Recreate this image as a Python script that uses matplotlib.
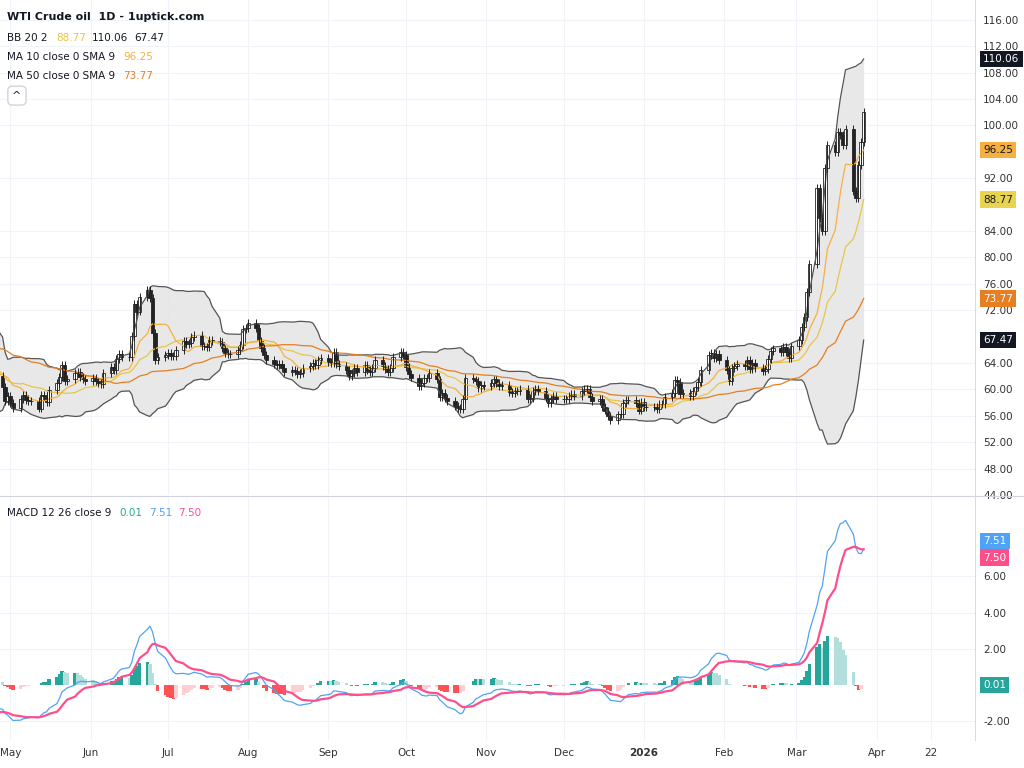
import numpy as np
import pandas as pd
import matplotlib
matplotlib.use("Agg")
import matplotlib.pyplot as plt

# ── 数据 ────────────────────────────────────────────────
early = [71, 71.5, 70.4, 70.3, 69.8, 68.4, 68.3, 67.0, 66.3, 66.0, 67.2, 66.6, 67.7, 67.6,
         66.9, 67.1, 67.8, 68.3, 68.0, 68.0, 69.1, 69.0, 68.7, 69.6, 69.4, 69.9, 69.6, 71.2,
         71.5, 71.7, 66.9, 61.9, 61.0, 60.7, 57.9, 62.4, 60.1, 61.5, 61.5, 60.5, 61.2, 64.3,
         62.3, 62.8, 63.0, 62.8, 63.0, 62.0, 60.4, 58.2, 59.0, 58.0, 57.2, 58.6, 59.1, 58.4]
may = [58.2, 58.3, 57.1, 59.1, 59.0, 58.1, 59.9, 61.0, 61.9, 63.7, 61.2, 61.6, 62.5, 62.7, 61.9,
       61.6, 61.2, 61.8, 61.2, 60.9, 60.8]
jun = [62.5, 63.4, 62.9, 64.6, 65.3, 64.9, 64.9, 68.1, 72.9, 71.8, 74.0, 75.1, 73.8, 68.5, 64.4,
       64.9, 65.2, 65.5, 65.1, 65.0, 66.0]
jul = [67.4, 66.9, 67.0, 67.9, 68.3, 66.6, 66.5, 66.4, 67.5, 67.3, 67.2, 66.2, 65.5, 65.3, 65.3,
       66.0, 66.7, 69.2, 69.3, 70.0, 69.3, 67.3]
aug = [66.3, 65.2, 64.4, 63.9, 63.7, 63.9, 63.2, 62.7, 63.0, 62.8, 62.4, 62.5, 63.2, 63.5, 64.0,
       63.7, 64.5, 64.8, 64.2, 64.0, 65.6]
sep = [63.9, 63.5, 63.0, 62.0, 62.5, 63.3, 62.6, 63.7, 63.0, 62.7, 63.2, 64.5, 63.5, 63.1, 62.7,
       63.3, 64.9, 65.7, 65.2, 63.4, 62.4, 61.8]
oct_ = [60.5, 60.9, 61.7, 61.7, 62.5, 61.5, 58.9, 59.5, 58.7, 58.3, 57.5, 57.2, 57.0, 58.5, 61.8,
        61.5, 61.3, 60.2, 60.6, 60.5, 61.0, 61.5, 60.9]
nov = [60.5, 60.6, 59.6, 59.4, 59.8, 59.8, 60.1, 58.5, 58.7, 59.8, 60.1, 59.7, 58.7, 58.0, 58.5,
       59.0, 58.6, 58.5, 58.6, 59.0]
dec = [59.3, 59.0, 59.7, 60.1, 60.1, 58.9, 58.3, 58.5, 57.4, 56.8, 55.9, 55.3, 56.2, 56.3, 58.0,
       58.4, 58.4, 58.0, 56.8, 58.1, 57.4, 57.4]
jan = [57.3, 57.0, 57.8, 57.8, 58.8, 59.5, 61.4, 61.1, 59.3, 59.5, 59.0, 59.7, 60.3, 61.1, 63.0,
       65.2, 65.5, 64.8, 65.4, 64.5, 63.0]
feb = [61.3, 63.2, 63.5, 63.9, 63.6, 64.4, 63.1, 64.0, 63.3, 62.8, 63.1, 64.6, 65.8, 66.2, 65.7,
       66.4, 65.6, 64.7, 66.5]
mar = [67.5, 69.5, 71.0, 74.8, 79.0, 90.5, 86.0, 84.0, 93.5, 97.0, 96.0, 99.0, 98.5, 97.0, 99.5,
       90.0, 89.0, 94.0, 97.5, 102.0]

series = early + may + jun + jul + aug + sep + oct_ + nov + dec + jan + feb + mar
closes = pd.Series(series, index=pd.bdate_range(end="2026-03-27", periods=len(series)))

month_ticks = ["2025-05-01", "2025-06-01", "2025-07-01", "2025-08-01", "2025-09-01", "2025-10-01",
               "2025-11-01", "2025-12-01", "2026-01-01", "2026-02-01", "2026-03-01", "2026-04-01",
               "2026-04-22"]
month_labels = ["May", "Jun", "Jul", "Aug", "Sep", "Oct", "Nov", "Dec", "2026", "Feb", "Mar", "Apr", "22"]

# ── 指标 ────────────────────────────────────────────────
opens = closes.shift(1).fillna(closes.iloc[0])
ma10 = closes.rolling(10).mean()
ma20 = closes.rolling(20).mean()
sd20 = closes.rolling(20).std(ddof=0)
bb_up, bb_lo = ma20 + 2 * sd20, ma20 - 2 * sd20
ma50 = closes.rolling(50, min_periods=1).mean()
macd = closes.ewm(span=12, adjust=False).mean() - closes.ewm(span=26, adjust=False).mean()
signal = macd.ewm(span=9, adjust=False).mean()
hist = macd - signal

n0 = 25
idx = closes.index[n0:]
c = closes.iloc[n0:]
o = opens.iloc[n0:]
hi = np.maximum(o, c) + 0.6
lo = np.minimum(o, c) - 0.6
last = closes.index[-1]

# ── 画布 ────────────────────────────────────────────────
fig = plt.figure(figsize=(10.24, 7.68), dpi=100)
ax = fig.add_axes([0, 0.3555, 0.952, 0.6445])
ax2 = fig.add_axes([0, 0.0365, 0.952, 0.3164], sharex=ax)
grid_c = "#F0F3FA"

ax.fill_between(idx, bb_up.iloc[n0:], bb_lo.iloc[n0:], color="#E3E3E3", alpha=0.8, lw=0)
ax.plot(idx, bb_up.iloc[n0:], color="#555555", lw=0.9)
ax.plot(idx, bb_lo.iloc[n0:], color="#555555", lw=0.9)
ax.plot(idx, ma20.iloc[n0:], color="#E8C547", lw=0.9)
ax.plot(idx, ma10.iloc[n0:], color="#F5B041", lw=0.9)
ax.plot(idx, ma50.iloc[n0:], color="#E67E22", lw=0.9)

ax.vlines(idx, lo, hi, color="#222222", lw=0.7)
up = c >= o
ax.bar(idx, (c - o).abs(), bottom=np.minimum(o, c), width=1.3,
       color=np.where(up, "white", "#222222"), edgecolor="#222222", linewidth=0.6)

main_tags = [bb_up[last], ma10[last], ma20[last], ma50[last], bb_lo[last]]
macd_tags = [macd[last], signal[last], hist[last]]

ax.set_ylim(44, 119)
ax.yaxis.tick_right()
ax.set_yticks([v for v in range(44, 117, 4) if min(abs(v - t) for t in main_tags) > 1.6])
ax.yaxis.set_major_formatter(matplotlib.ticker.FormatStrFormatter("%.2f"))
ax.tick_params(axis="y", length=0, labelsize=7.5, colors="#333333", pad=6)
ax.tick_params(axis="x", bottom=False, labelbottom=False)
ax.grid(True, color=grid_c, lw=0.8)
ax.set_axisbelow(True)

# MACD
cols = []
for i in range(n0, len(hist)):
    h, p = hist.iloc[i], hist.iloc[i - 1]
    if h >= 0:
        cols.append("#26A69A" if h >= p else "#B2DFDB")
    else:
        cols.append("#FF5252" if h < p else "#FFCDD2")
ax2.bar(idx, hist.iloc[n0:], width=1.3, color=cols)
ax2.plot(idx, macd.iloc[n0:], color="#4FA3F7", lw=0.9)
ax2.plot(idx, signal.iloc[n0:], color="#FF4F8B", lw=1.6)
ax2.set_ylim(-3.05, 10.4)
ax2.yaxis.tick_right()
ax2.set_yticks([v for v in [-2, 0, 2, 4, 6] if min(abs(v - t) for t in macd_tags) > 0.45])
ax2.yaxis.set_major_formatter(matplotlib.ticker.FormatStrFormatter("%.2f"))
ax2.tick_params(axis="y", length=0, labelsize=7.5, colors="#333333", pad=6)
ax2.grid(True, color=grid_c, lw=0.8)
ax2.set_axisbelow(True)

tick_dates = pd.to_datetime(month_ticks)
ax2.set_xticks(tick_dates)
ax2.set_xticklabels(month_labels)
for lab in ax2.get_xticklabels():
    if lab.get_text() == "2026":
        lab.set_fontweight("bold")
ax2.tick_params(axis="x", length=0, labelsize=7.5, colors="#333333", pad=6)
ax2.set_xlim(pd.Timestamp("2025-04-27"), pd.Timestamp("2026-05-09"))

for a in (ax, ax2):
    for s in a.spines.values():
        s.set_visible(False)
fig.add_artist(plt.Line2D([0, 1], [1 - 496 / 768] * 2, color="#D1D4DC", lw=0.8))
fig.add_artist(plt.Line2D([0.952, 0.952], [0.0365, 1], color="#D1D4DC", lw=0.6))

# 右侧数值标签
def tag(a, y, txt, bg, fg="white", dy=0):
    a.annotate(txt, xy=(1.0, y), xycoords=("axes fraction", "data"), xytext=(6, dy),
               textcoords="offset points", va="center", ha="left", fontsize=7.5, color=fg,
               bbox=dict(boxstyle="square,pad=0.3", fc=bg, ec="none"), annotation_clip=False,
               zorder=10)

tag(ax, bb_up[last], f"{bb_up[last]:.2f}", "#131722")
tag(ax, ma10[last], f"{ma10[last]:.2f}", "#F5B041", "#131722")
tag(ax, ma20[last], f"{ma20[last]:.2f}", "#E8D44D", "#131722")
tag(ax, ma50[last], f"{ma50[last]:.2f}", "#E67E22")
tag(ax, bb_lo[last], f"{bb_lo[last]:.2f}", "#131722")
# 蓝/粉标签靠得太近时上下错开
gap = (macd[last] - signal[last]) * 13
shift = max(0, 6 - abs(gap)) * (1 if gap >= 0 else -1)
tag(ax2, macd[last], f"{macd[last]:.2f}", "#4FA3F7", dy=shift)
tag(ax2, signal[last], f"{signal[last]:.2f}", "#FF4F8B", dy=-shift)
tag(ax2, hist[last], f"{hist[last]:.2f}", "#26A69A")

# 左上角说明
fs = 7.5
fig.text(0.007, 0.985, "WTI Crude oil  1D - 1uptick.com", fontsize=8, fontweight="bold",
         color="#131722", va="top")
legend_rows = [
    (0.957, "BB 20 2", [(f"{ma20[last]:.2f}", "#E8C547"), (f"{bb_up[last]:.2f}", "#131722"),
                        (f"{bb_lo[last]:.2f}", "#131722")]),
    (0.932, "MA 10 close 0 SMA 9", [(f"{ma10[last]:.2f}", "#F5B041")]),
    (0.907, "MA 50 close 0 SMA 9", [(f"{ma50[last]:.2f}", "#E67E22")]),
]
fig.canvas.draw()
rend = fig.canvas.get_renderer()
for y, name, vals in legend_rows:
    t = fig.text(0.007, y, name, fontsize=fs, color="#131722", va="top")
    x = 0.007 + t.get_window_extent(rend).width / 1024 + 0.008
    for v, col in vals:
        tv = fig.text(x, y, v, fontsize=fs, color=col, va="top")
        x += tv.get_window_extent(rend).width / 1024 + 0.006
t = fig.text(0.007, 1 - 508 / 768, "MACD 12 26 close 9", fontsize=fs, color="#131722", va="top")
x = 0.007 + t.get_window_extent(rend).width / 1024 + 0.008
for v, col in [(f"{hist[last]:.2f}", "#26A69A"), (f"{macd[last]:.2f}", "#4FA3F7"),
               (f"{signal[last]:.2f}", "#FF4F8B")]:
    tv = fig.text(x, 1 - 508 / 768, v, fontsize=fs, color=col, va="top")
    x += tv.get_window_extent(rend).width / 1024 + 0.006
fig.text(0.012, 0.882, "^", fontsize=8, color="#131722", va="top",
         bbox=dict(boxstyle="round,pad=0.4", fc="white", ec="#D1D4DC"))

fig.savefig("out.png", dpi=100)
